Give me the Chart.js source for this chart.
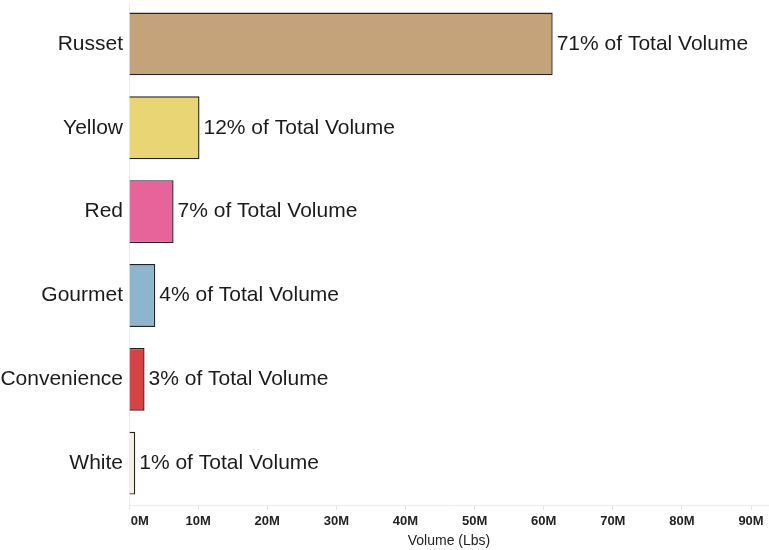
<!DOCTYPE html>
<html>
<head>
<meta charset="utf-8">
<script src="https://cdn.jsdelivr.net/npm/chart.js@4/dist/chart.umd.min.js"></script>
<style>
  html, body { margin: 0; padding: 0; background: #ffffff; }
  #wrap { width: 769px; height: 550px; position: relative; }
</style>
</head>
<body>
<div id="wrap"><canvas id="chart"></canvas></div>
<script>
// Potato types and their shipped volume (lbs)
const categories = ['Russet', 'Yellow', 'Red', 'Gourmet', 'Convenience', 'White'];
const volumeLbs = [61300000, 10200000, 6450000, 3800000, 2250000, 900000];
const shareOfTotal = [71, 12, 7, 4, 3, 1];
const barColors = ['#C4A27A', '#E8D574', '#E6649A', '#8DB5D0', '#D64345', '#F4F1E2'];
const xTickValues = [0, 10000000, 20000000, 30000000, 40000000, 50000000, 60000000, 70000000, 80000000, 90000000];
const xAxisMax = 92600000;   // axis runs a little past the last 90M tick

const LABEL_FONT = '"Liberation Sans", Arial, sans-serif';

// Draws "NN% of Total Volume" just right of each bar
const shareLabels = {
  id: 'shareLabels',
  afterDatasetsDraw(chart) {
    const ctx = chart.ctx;
    const meta = chart.getDatasetMeta(0);
    ctx.save();
    ctx.font = '21px ' + LABEL_FONT;
    ctx.fillStyle = '#1b1b1b';
    ctx.textAlign = 'left';
    ctx.textBaseline = 'middle';
    meta.data.forEach((bar, i) => {
      ctx.fillText(shareOfTotal[i] + '% of Total Volume', bar.x + 4, bar.y);
    });
    ctx.restore();
  }
};

new Chart(document.getElementById('chart'), {
  type: 'bar',
  data: {
    labels: categories,
    datasets: [{
      data: volumeLbs,
      backgroundColor: barColors,
      borderColor: '#222222',
      borderWidth: 1.4,
      borderSkipped: 'start',
      barPercentage: 0.75,
      categoryPercentage: 1.0
    }]
  },
  options: {
    indexAxis: 'y',
    responsive: true,
    maintainAspectRatio: false,
    animation: false,
    layout: { padding: { top: 2, right: 0, left: 0, bottom: 0 } },
    plugins: {
      legend: { display: false },
      tooltip: { enabled: false }
    },
    scales: {
      x: {
        min: 0,
        max: xAxisMax,
        afterBuildTicks: (scale) => {
          scale.ticks = xTickValues.map((v) => ({ value: v }));
        },
        ticks: {
          autoSkip: false,
          color: '#222222',
          font: { family: LABEL_FONT, size: 13, weight: 'bold' },
          padding: 3.5,
          maxRotation: 0,
          // the zero label sits just right of the axis corner
          callback: (v) => (v === 0 ? '      0M' : (v / 1000000) + 'M')
        },
        grid: {
          drawOnChartArea: false,
          drawTicks: true,
          tickLength: 5,
          color: '#e4e4e4'
        },
        border: { display: true, color: '#ececec', width: 1 },
        title: {
          display: true,
          text: 'Volume (Lbs)',
          color: '#222222',
          font: { family: LABEL_FONT, size: 14 },
          padding: { top: 0.5, bottom: 0 }
        }
      },
      y: {
        ticks: {
          color: '#1b1b1b',
          font: { family: LABEL_FONT, size: 21 },
          padding: 6
        },
        grid: { display: false, drawTicks: false },
        border: { display: true, color: '#ececec', width: 1 },
        afterFit: (scale) => {
          scale.width = 129;
          scale.paddingTop = 0;
          scale.paddingBottom = 0;
        }
      }
    }
  },
  plugins: [shareLabels]
});
</script>
</body>
</html>
